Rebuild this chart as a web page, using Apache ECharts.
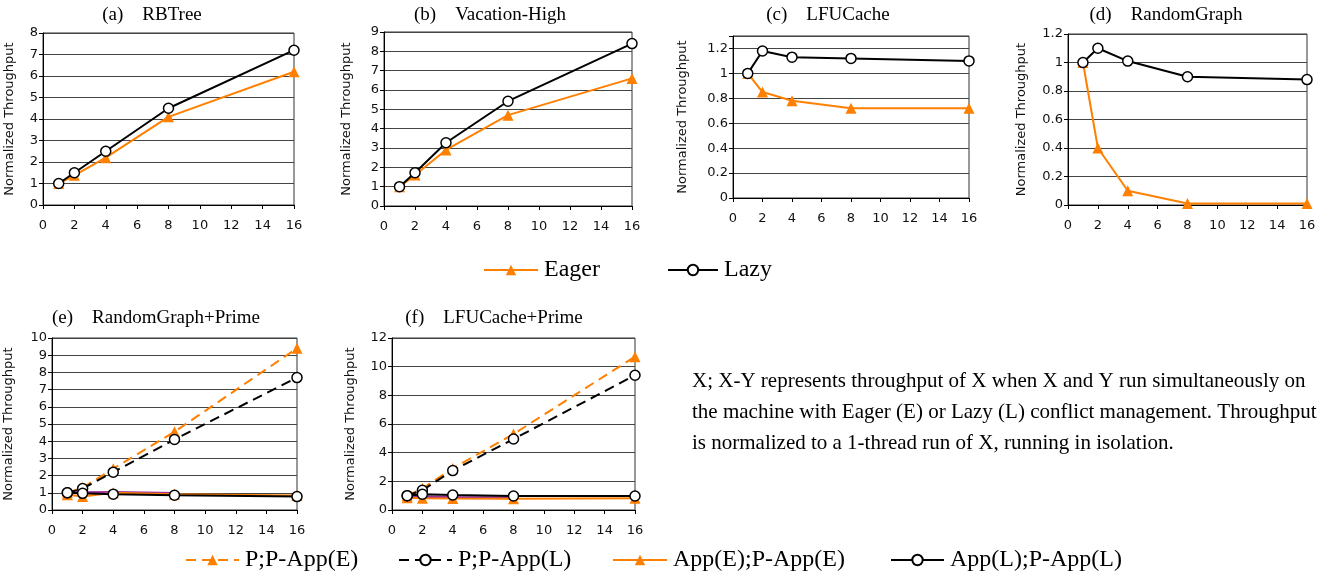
<!DOCTYPE html>
<html>
<head>
<meta charset="utf-8">
<script src="https://cdn.jsdelivr.net/npm/echarts@6/dist/echarts.min.js"></script>
<style>html,body{margin:0;padding:0;background:#fff}#c{width:1330px;height:576px}</style>
</head>
<body>
<div id="c"></div>
<script>
// ---- data ----
const threads = [1, 2, 4, 8, 16];
const xTicks = [0, 2, 4, 6, 8, 10, 12, 14, 16];

const rbEager = [1, 1.38, 2.2, 4.1, 6.2];
const rbLazy = [1, 1.5, 2.5, 4.5, 7.2];
const vacEager = [1, 1.6, 2.9, 4.7, 6.6];
const vacLazy = [1, 1.72, 3.27, 5.42, 8.4];
const lfuEager = [1, 0.85, 0.78, 0.72, 0.72];
const lfuLazy = [1, 1.18, 1.13, 1.12, 1.10];
const rgEager = [1, 0.40, 0.10, 0.01, 0.01];
const rgLazy = [1, 1.10, 1.01, 0.90, 0.88];

const rgpPPE = [1, 1.3, 2.4, 4.55, 9.4];
const rgpPPL = [1, 1.25, 2.2, 4.1, 7.7];
const rgpAppE = [0.88, 0.78, 1.0, 0.92, 0.85];
const rgpAppL = [1, 0.97, 0.92, 0.86, 0.78];
const rgpOther = [1.0, 1.0, 1.02, 0.96, null];

const lfpPPE = [1, 1.5, 2.9, 5.3, 10.7];
const lfpPPL = [1, 1.38, 2.75, 4.95, 9.4];
const lfpAppE = [0.85, 0.82, 0.8, 0.78, 0.82];
const lfpAppL = [1, 1.1, 1.05, 0.98, 0.98];
const lfpOther = [0.95, 0.92, 0.88, 0.86, null];

const titles = ['(a)\u2003RBTree', '(b)\u2003Vacation-High', '(c)\u2003LFUCache', '(d)\u2003RandomGraph', '(e)\u2003RandomGraph+Prime', '(f)\u2003LFUCache+Prime'];
const yMax = [8, 9, 1.3, 1.2, 10, 12];
const yInterval = [1, 1, 0.2, 0.2, 1, 2];
const yName = 'Normalized Throughput';
const legendTop = ['Eager', 'Lazy'];
const legendBottom = ['P;P-App(E)', 'P;P-App(L)', 'App(E);P-App(E)', 'App(L);P-App(L)'];
const note = [
  'X; X-Y represents throughput of X when X and Y run simultaneously on',
  'the machine with Eager (E) or Lazy (L) conflict management. Throughput',
  'is normalized to a 1-thread run of X, running in isolation.'
];

// ---- layout ----
const ORANGE = '#ff8000';
const SERIF = '"Liberation Serif", "DejaVu Serif", serif';
const SANS = '"DejaVu Sans", Verdana, sans-serif';
const grids = [
  {left: 43, top: 33, width: 251, height: 172},
  {left: 384, top: 32, width: 248, height: 174},
  {left: 733, top: 36, width: 236, height: 162},
  {left: 1068, top: 34, width: 239, height: 171},
  {left: 52, top: 338, width: 245, height: 172},
  {left: 392, top: 338, width: 243, height: 172}
];
const nameGaps = [27, 31, 44, 40, 37, 35];

const pairs = arr => threads.map((x, i) => [x, arr[i]]);

const gridOpts = grids.map(g => Object.assign({show: true, borderColor: '#333', borderWidth: 1, backgroundColor: 'transparent'}, g));

const xAxes = grids.map((g, i) => ({
  type: 'value', gridIndex: i, min: xTicks[0], max: xTicks[xTicks.length - 1], interval: xTicks[1] - xTicks[0],
  axisLine: {show: true, lineStyle: {color: '#000', width: 1}},
  axisTick: {show: true, inside: false, length: 4, lineStyle: {color: '#000'}},
  axisLabel: {color: '#111', fontFamily: SANS, fontSize: 13, margin: 14},
  splitLine: {show: false}
}));

function isOffTick(v, i) {
  const r = v / yInterval[i];
  return Math.abs(r - Math.round(r)) > 1e-6;
}

const yAxes = grids.map((g, i) => ({
  type: 'value', gridIndex: i, min: 0, max: yMax[i], interval: yInterval[i],
  name: yName, nameLocation: 'middle', nameGap: nameGaps[i], nameRotate: 90,
  nameTextStyle: {color: '#111', fontFamily: SANS, fontSize: 13},
  axisLine: {show: true, lineStyle: {color: '#000', width: 1}},
  axisTick: {show: true, inside: false, length: 4, lineStyle: {color: '#000'}},
  axisLabel: {color: '#111', fontFamily: SANS, fontSize: 13, margin: 5,
    formatter: v => isOffTick(v, i) ? '' : String(+v.toFixed(2))},
  splitLine: {show: true, lineStyle: {color: '#444', width: 1}}
}));

function eager(name, data, gi, dashed) {
  return {
    name, type: 'line', xAxisIndex: gi, yAxisIndex: gi, data: pairs(data),
    symbol: 'triangle', symbolSize: 11, z: 3,
    lineStyle: {color: ORANGE, width: 2, type: dashed ? [10, 6] : 'solid'},
    itemStyle: {color: ORANGE}, animation: false
  };
}
function lazy(name, data, gi, dashed) {
  return {
    name, type: 'line', xAxisIndex: gi, yAxisIndex: gi, data: pairs(data),
    symbol: 'circle', symbolSize: 10, z: 4,
    lineStyle: {color: '#000', width: 2, type: dashed ? [10, 6] : 'solid'},
    itemStyle: {color: '#fff', borderColor: '#000', borderWidth: 1.5}, animation: false
  };
}
function other(data, gi) {
  return {
    name: 'other', type: 'line', xAxisIndex: gi, yAxisIndex: gi, data: pairs(data),
    symbol: 'none', z: 2, lineStyle: {color: '#9b2f9b', width: 3}, itemStyle: {color: '#9b2f9b'}, animation: false
  };
}

const series = [
  eager('Eager', rbEager, 0), lazy('Lazy', rbLazy, 0),
  eager('Eager', vacEager, 1), lazy('Lazy', vacLazy, 1),
  eager('Eager', lfuEager, 2), lazy('Lazy', lfuLazy, 2),
  eager('Eager', rgEager, 3), lazy('Lazy', rgLazy, 3),
  other(rgpOther, 4),
  eager(legendBottom[0], rgpPPE, 4, true), eager(legendBottom[2], rgpAppE, 4),
  lazy(legendBottom[1], rgpPPL, 4, true), lazy(legendBottom[3], rgpAppL, 4),
  other(lfpOther, 5),
  eager(legendBottom[0], lfpPPE, 5, true), eager(legendBottom[2], lfpAppE, 5),
  lazy(legendBottom[1], lfpPPL, 5, true), lazy(legendBottom[3], lfpAppL, 5)
];

const legendBase = {orient: 'horizontal', padding: 0, itemGap: 0, selectedMode: true,
  textStyle: {fontFamily: SERIF, fontSize: 24, color: '#000', padding: [0, 0, 0, 1]}, itemHeight: 13};
const legends = [
  Object.assign({}, legendBase, {data: [legendTop[0]], left: 483, top: 258, itemWidth: 54}),
  Object.assign({}, legendBase, {data: [legendTop[1]], left: 667, top: 258, itemWidth: 50}),
  Object.assign({}, legendBase, {data: [legendBottom[0]], left: 185, top: 548, itemWidth: 53}),
  Object.assign({}, legendBase, {data: [legendBottom[1]], left: 398, top: 548, itemWidth: 53}),
  Object.assign({}, legendBase, {data: [legendBottom[2]], left: 612, top: 548, itemWidth: 54}),
  Object.assign({}, legendBase, {data: [legendBottom[3]], left: 890, top: 548, itemWidth: 53})
];

const titleCenters = [[152, 15], [490, 15], [828, 15], [1166, 15], [156, 318], [494, 318]];
const graphics = titles.map((t, i) => ({
  type: 'text', x: titleCenters[i][0], y: titleCenters[i][1],
  style: {text: t, fontFamily: SERIF, fontSize: 19, fill: '#000', align: 'center', verticalAlign: 'middle', textAlign: 'center', textVerticalAlign: 'middle'}
})).concat(note.map((t, i) => ({
  type: 'text', x: 692, y: 381 + i * 31,
  style: {text: t, fontFamily: SERIF, fontSize: 21, fill: '#000', align: 'left', verticalAlign: 'middle', textAlign: 'left', textVerticalAlign: 'middle'}
})));

const chart = echarts.init(document.getElementById('c'), null, {renderer: 'canvas'});
chart.setOption({
  backgroundColor: '#fff',
  animation: false,
  grid: gridOpts,
  xAxis: xAxes,
  yAxis: yAxes,
  legend: legends,
  series: series,
  graphic: graphics
});
</script>
</body>
</html>
